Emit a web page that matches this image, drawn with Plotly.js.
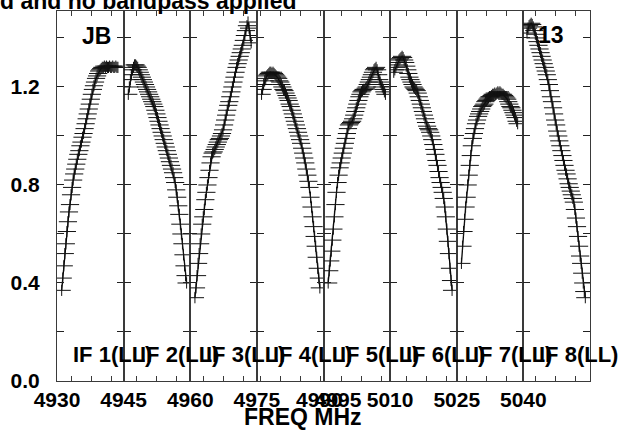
<!DOCTYPE html>
<html>
<head>
<meta charset="utf-8">
<script src="https://cdn.plot.ly/plotly-3.0.1.min.js"></script>
<style>html,body{margin:0;padding:0;background:#fff;}#chart{width:627px;height:434px;}</style>
</head>
<body>
<div id="chart"></div>
<script>
// ---- data ----
const ifNames = ["IF 1(LL)", "IF 2(LL)", "IF 3(LL)", "IF 4(LL)", "IF 5(LL)", "IF 6(LL)", "IF 7(LL)", "IF 8(LL)"];
const ifStartFreq = [4930, 4945, 4960, 4975, 4991.5, 5010, 5025, 5040]; // MHz, left edge of each IF panel
const chanWidth = 0.25; // MHz per channel (64 channels x 0.25 = 16 MHz)
const firstChan = [4, 4, 4, 4, 4, 3, 4, 3];
const xTickLabels = [[4930], [4945], [4960], [4975, 4990], [4995], [5010], [5025], [5040]];
const yTickVals = [0, 0.2, 0.4, 0.6, 0.8, 1.0, 1.2, 1.4];
const yTickText = ["0.0", "", "0.4", "", "0.8", "", "1.2", ""];

const if1 = [0.37,0.42,0.47,0.52,0.56,0.61,0.65,0.69,0.72,0.76,
  0.79,0.82,0.845,0.865,0.885,0.905,0.925,0.94,0.96,0.975,
  0.995,1.01,1.03,1.05,1.07,1.09,1.11,1.13,1.15,1.17,
  1.19,1.205,1.22,1.235,1.245,1.255,1.265,1.27,1.275,1.28,
  1.28,1.285,1.28,1.285,1.28,1.28,1.285,1.28,1.28,1.285,
  1.28,1.28,1.285,1.28,1.28];
const if2 = [1.17,1.20,1.23,1.25,1.27,1.28,1.29,1.29,1.285,1.28,
  1.27,1.26,1.25,1.24,1.23,1.22,1.21,1.20,1.19,1.18,
  1.17,1.16,1.15,1.14,1.13,1.12,1.105,1.09,1.075,1.06,
  1.045,1.03,1.015,1.00,0.985,0.97,0.955,0.94,0.925,0.91,
  0.895,0.88,0.865,0.85,0.83,0.81,0.78,0.75,0.715,0.68,
  0.64,0.60,0.56,0.515,0.47,0.43,0.40];
const if3 = [0.34,0.38,0.43,0.48,0.52,0.56,0.60,0.64,0.67,0.70,
  0.74,0.77,0.80,0.83,0.86,0.89,0.915,0.93,0.935,0.945,
  0.955,0.965,0.975,0.985,0.99,1.00,1.01,1.025,1.045,1.065,
  1.085,1.105,1.125,1.14,1.16,1.18,1.20,1.22,1.24,1.26,
  1.28,1.295,1.31,1.325,1.34,1.355,1.37,1.39,1.41,1.43,
  1.45,1.465,1.44,1.41,1.38];
const if4 = [1.17,1.19,1.21,1.225,1.235,1.245,1.25,1.255,1.26,1.26,
  1.255,1.26,1.255,1.25,1.245,1.24,1.235,1.225,1.22,1.21,
  1.20,1.19,1.185,1.175,1.165,1.155,1.145,1.13,1.12,1.105,
  1.09,1.075,1.06,1.045,1.03,1.015,1.00,0.985,0.97,0.95,
  0.93,0.91,0.89,0.865,0.84,0.815,0.79,0.75,0.71,0.67,
  0.63,0.59,0.55,0.505,0.46,0.42,0.38];
const if5 = [0.40,0.45,0.49,0.53,0.575,0.62,0.67,0.72,0.77,0.81,
  0.84,0.87,0.89,0.91,0.93,0.95,0.97,0.99,1.01,1.03,
  1.045,1.05,1.055,1.06,1.07,1.085,1.10,1.115,1.13,1.145,
  1.16,1.17,1.18,1.185,1.19,1.19,1.195,1.20,1.21,1.22,
  1.23,1.24,1.25,1.26,1.27,1.275,1.28,1.27,1.25,1.23,
  1.22,1.21,1.20,1.19,1.18,1.17];
const if6 = [1.26,1.27,1.28,1.29,1.30,1.31,1.315,1.32,1.325,1.32,
  1.31,1.30,1.285,1.27,1.255,1.24,1.23,1.22,1.21,1.20,
  1.195,1.19,1.185,1.175,1.16,1.145,1.13,1.115,1.10,1.085,
  1.07,1.055,1.04,1.03,1.025,1.015,1.00,0.985,0.965,0.945,
  0.925,0.90,0.88,0.855,0.83,0.81,0.79,0.77,0.745,0.71,
  0.67,0.62,0.57,0.52,0.46,0.41,0.37];
const if7 = [0.48,0.55,0.61,0.66,0.71,0.75,0.80,0.84,0.88,0.92,
  0.96,0.99,1.01,1.03,1.05,1.065,1.08,1.09,1.10,1.11,
  1.12,1.125,1.13,1.14,1.145,1.15,1.155,1.16,1.16,1.165,
  1.17,1.17,1.175,1.17,1.175,1.18,1.175,1.18,1.175,1.17,
  1.17,1.165,1.16,1.155,1.15,1.14,1.13,1.12,1.115,1.105,
  1.095,1.085,1.075,1.06,1.05];
const if8 = [1.42,1.44,1.45,1.455,1.46,1.455,1.445,1.43,1.415,1.40,
  1.385,1.37,1.355,1.34,1.325,1.31,1.295,1.28,1.265,1.25,
  1.23,1.21,1.185,1.16,1.14,1.115,1.09,1.065,1.045,1.02,
  1.00,0.98,0.96,0.94,0.92,0.90,0.88,0.86,0.845,0.825,
  0.805,0.79,0.775,0.76,0.745,0.73,0.70,0.665,0.63,0.59,
  0.55,0.51,0.48,0.44,0.40,0.365,0.34];
const ifValues = [if1, if2, if3, if4, if5, if6, if7, if8];

// ---- style ----
const FONT = "Liberation Sans, Arial, Helvetica, sans-serif";
const AX = "#3a3a3a";
const minorFirst = [3.6, 3.1, 3.3, 0.8, 4.3, 3.9, 2.4, 2.9]; // tick placement (style)
const minorStep = 4.8;
const panelWidth = 16;

const traces = [];
const layout = {
  width: 627, height: 434,
  margin: {l: 57, r: 37, t: 11, b: 53, pad: 0},
  paper_bgcolor: "white", plot_bgcolor: "white",
  showlegend: false,
  font: {family: FONT, size: 21, color: "black", weight: "bold"},
  annotations: []
};

for (let i = 0; i < 8; i++) {
  const sfx = i === 0 ? "" : String(i + 1);
  const f0 = ifStartFreq[i];
  const vals = ifValues[i];
  const xs = vals.map((v, j) => f0 + (firstChan[i] + j + 0.5) * chanWidth);
  // horizontal bar of each "+" plus connecting line
  traces.push({
    type: "scatter", mode: "lines+markers",
    x: xs, y: vals,
    xaxis: "x" + sfx, yaxis: "y" + sfx,
    line: {color: "black", width: 1.3},
    marker: {symbol: "line-ew", size: 13, color: "#111", line: {width: 1, color: "#111"}},
    hoverinfo: "skip"
  });
  // short vertical bar of each "+"
  traces.push({
    type: "scatter", mode: "markers",
    x: xs, y: vals,
    xaxis: "x" + sfx, yaxis: "y" + sfx,
    marker: {symbol: "line-ns", size: 8, color: "#111", line: {width: 1, color: "#111"}},
    hoverinfo: "skip"
  });
  const minors = [];
  for (let t = minorFirst[i]; t < panelWidth; t += minorStep) minors.push(f0 + t);
  layout["xaxis" + sfx] = {
    domain: [i / 8, (i + 1) / 8],
    range: [f0, f0 + panelWidth],
    anchor: "y" + sfx,
    showline: true, linecolor: AX, linewidth: 1, mirror: "ticks",
    showgrid: false, zeroline: false,
    tickmode: "array",
    tickvals: xTickLabels[i],
    ticktext: xTickLabels[i].map(String),
    ticks: "",
    tickfont: {family: FONT, size: 21, color: "black", weight: "bold"},
    minor: {tickmode: "array", tickvals: minors, ticks: "inside", ticklen: 5, tickwidth: 1, tickcolor: AX, showgrid: false},
    fixedrange: true
  };
  layout["yaxis" + sfx] = {
    domain: [0, 1],
    range: [0, 1.51],
    anchor: "x" + sfx,
    showline: true, linecolor: AX, linewidth: 1, mirror: "ticks",
    showgrid: false, zeroline: false,
    tickmode: "array", tickvals: yTickVals, ticktext: yTickText,
    ticks: "inside", ticklen: 7, tickwidth: 1, tickcolor: "#222",
    showticklabels: i === 0,
    ticklabelstandoff: 12,
    tickfont: {family: FONT, size: 21, color: "black", weight: "bold"},
    fixedrange: true
  };
  layout.annotations.push({
    xref: "paper", yref: "paper",
    x: i / 8 + 14 / 533, y: (381 - 354) / 370,
    xanchor: "left", yanchor: "middle",
    text: ifNames[i], showarrow: false,
    font: {family: FONT, size: 22, color: "black", weight: "bold"}
  });
}

layout.annotations.push(
  {xref: "paper", yref: "paper", x: (96 - 57) / 533, y: (381 - 36) / 370, xanchor: "center", yanchor: "middle",
   text: "JB", showarrow: false, font: {family: FONT, size: 23, color: "black", weight: "bold"}},
  {xref: "paper", yref: "paper", x: (566 - 57) / 533, y: (381 - 35) / 370, xanchor: "right", yanchor: "middle",
   text: "13", showarrow: false, font: {family: FONT, size: 23, color: "black", weight: "bold"}},
  {xref: "paper", yref: "paper", x: (303 - 57) / 533, y: (381 - 417) / 370, xanchor: "center", yanchor: "middle",
   text: "FREQ MHz", showarrow: false, font: {family: FONT, size: 23, color: "black", weight: "bold"}},
  {xref: "paper", yref: "paper", x: (298 - 57) / 533, y: 1 + 10 / 370, xanchor: "right", yanchor: "middle",
   text: "d and no bandpass applied", showarrow: false, font: {family: FONT, size: 23, color: "black", weight: "bold"}}
);

Plotly.newPlot("chart", traces, layout, {displayModeBar: false, staticPlot: true});
</script>
</body>
</html>
